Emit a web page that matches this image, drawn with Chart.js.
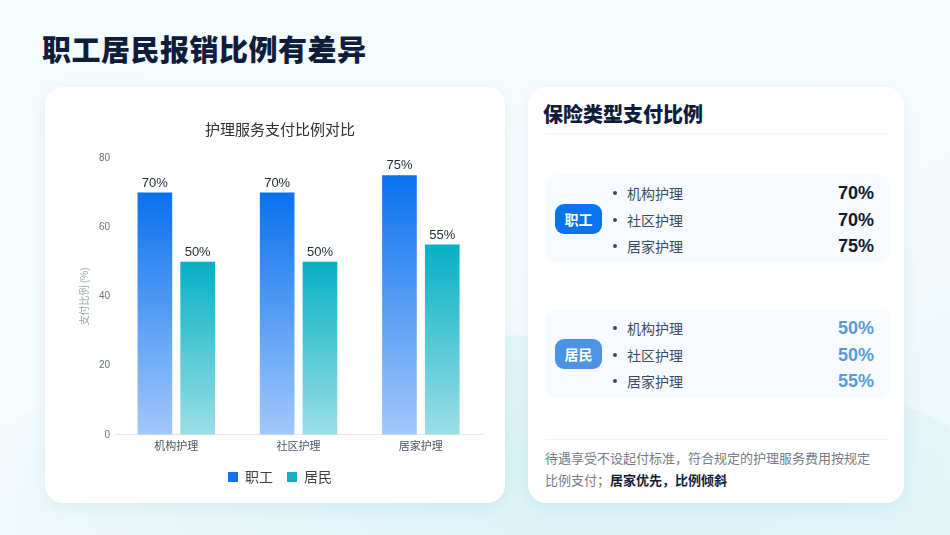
<!DOCTYPE html>
<html lang="zh-CN">
<head>
  <meta charset="UTF-8" />
  <title>职工居民报销比例有差异</title>
  <script src="https://cdn.jsdelivr.net/npm/chart.js"></script>
  <style>
    html, body { margin: 0; padding: 0; }
    body {
      width: 950px;
      height: 535px;
      overflow: hidden;
      position: relative;
      font-family: 'Noto Sans CJK SC', 'Noto Sans', sans-serif;
      background: linear-gradient(160deg, #f2fbfd 0%, #f7fcfe 45%, #eaf7f9 100%);
    }
    .wave {
      position: absolute;
      left: -100px; right: -100px;
      bottom: -220px;
      height: 420px;
      border-radius: 50%;
      background: radial-gradient(ellipse at 60% 30%, rgba(200,238,243,0.6), rgba(230,248,250,0) 70%);
    }
    .page-title {
      position: absolute;
      left: 42px;
      top: 27px;
      margin: 0;
      font-size: 29px;
      font-weight: 900;
      color: #0f1d3a;
      letter-spacing: 0.5px;
    }
    .card {
      position: absolute;
      background: #fff;
      border-radius: 18px;
      box-shadow: 0 4px 16px rgba(60,140,170,0.10);
    }
    .card-left { left: 45px; top: 87px; width: 460px; height: 416px; }
    .card-right { left: 528px; top: 87px; width: 376px; height: 416px; }
    .chart-box {
      position: absolute;
      left: 10px; top: 14px;
      width: 440px; height: 393px;
    }
    .rt-title {
      position: absolute;
      left: 15px; top: 12px;
      margin: 0;
      font-size: 20px;
      font-weight: 900;
      color: #0f1d3a;
    }
    .divider {
      position: absolute;
      left: 17px; right: 16px;
      height: 1px;
      background: #eef3f6;
    }
    .group {
      position: absolute;
      left: 17px; width: 345px;
      height: 88px;
      border-radius: 10px;
      background: #f7fbff;
    }
    .badge {
      position: absolute;
      left: 10px; top: 29px;
      width: 47px; height: 30px;
      border-radius: 9px;
      color: #fff;
      font-size: 14px;
      font-weight: 700;
      line-height: 30px;
      text-align: center;
    }
    .row {
      position: absolute;
      left: 68px; width: 261px;
      height: 24px;
      line-height: 24px;
      font-size: 14px;
      color: #3d4a5c;
    }
    .row .dot {
      display: inline-block;
      width: 4px; height: 4px;
      border-radius: 50%;
      background: #3d4a5c;
      vertical-align: middle;
      margin: 0 10px 0 0;
      position: relative; top: -2px;
    }
    .row .val {
      position: absolute;
      right: 0; top: 0;
      font-family: 'Liberation Sans', 'Noto Sans', sans-serif;
      font-size: 18px;
      font-weight: 700;
    }
    .note {
      position: absolute;
      left: 17px; top: 360px;
      width: 334px;
      margin: 0;
      font-size: 13px;
      line-height: 22px;
      color: #747c86;
    }
    .note b { color: #0f1d3a; }
  </style>
</head>
<body>
  <div class="wave"></div>
  <h1 class="page-title">职工居民报销比例有差异</h1>

  <div class="card card-left">
    <div class="chart-box"><canvas id="barChart"></canvas></div>
  </div>

  <div class="card card-right">
    <h2 class="rt-title">保险类型支付比例</h2>
    <div class="divider" style="top: 46px;"></div>
    <div id="groups"></div>
    <div class="divider" style="top: 352px;"></div>
    <p class="note">待遇享受不设起付标准，符合规定的护理服务费用按规定比例支付；<b>居家优先，比例倾斜</b></p>
  </div>

  <script>
    const categories = ['机构护理', '社区护理', '居家护理'];
    const workerValues = [70, 70, 75];
    const residentValues = [50, 50, 55];
    const seriesNames = ['职工', '居民'];
    const yTicks = [0, 20, 40, 60, 80];

    // right-hand summary built from the same arrays
    const groupsEl = document.getElementById('groups');
    const groupSpecs = [
      { name: seriesNames[0], values: workerValues, top: 88, badge: '#0a74ee', valColor: '#111827' },
      { name: seriesNames[1], values: residentValues, top: 223, badge: '#4a94e2', valColor: '#5b9ad6' }
    ];
    groupSpecs.forEach(g => {
      const box = document.createElement('div');
      box.className = 'group';
      box.style.top = g.top + 'px';
      let html = '<div class="badge" style="background:' + g.badge + '">' + g.name + '</div>';
      categories.forEach((c, i) => {
        html += '<div class="row" style="top:' + (6 + i * 26.5) + 'px"><span class="dot"></span>' + c +
          '<span class="val" style="color:' + g.valColor + '">' + g.values[i] + '%</span></div>';
      });
      box.innerHTML = html;
      groupsEl.appendChild(box);
    });

    function barGradient(top, bottom) {
      return function (ctx) {
        const chart = ctx.chart;
        const area = chart.chartArea;
        if (!area || ctx.type !== 'data') return top;
        const yScale = chart.scales.y;
        const y0 = yScale.getPixelForValue(ctx.raw);
        const y1 = yScale.getPixelForValue(0);
        const g = chart.ctx.createLinearGradient(0, y0, 0, y1);
        g.addColorStop(0, top);
        g.addColorStop(1, bottom);
        return g;
      };
    }

    // percent labels above each bar
    const valueLabels = {
      id: 'valueLabels',
      afterDatasetsDraw(chart) {
        const c = chart.ctx;
        c.save();
        c.font = '13px "Liberation Sans", "Noto Sans", sans-serif';
        c.fillStyle = '#1f2937';
        c.textAlign = 'center';
        c.textBaseline = 'bottom';
        chart.data.datasets.forEach((ds, di) => {
          chart.getDatasetMeta(di).data.forEach((bar, i) => {
            c.fillText(ds.data[i] + '%', bar.x, bar.y - 3);
          });
        });
        c.restore();
      }
    };

    const ctxBar = document.getElementById('barChart').getContext('2d');
    new Chart(ctxBar, {
      type: 'bar',
      data: {
        labels: categories,
        datasets: [
          {
            label: seriesNames[0],
            data: workerValues,
            backgroundColor: barGradient('#0a71ee', '#a2c8fb'),
            legendColor: '#1374e8'
          },
          {
            label: seriesNames[1],
            data: residentValues,
            backgroundColor: barGradient('#06b0c5', '#9cdfe5'),
            legendColor: '#15aec3'
          }
        ]
      },
      options: {
        responsive: true,
        maintainAspectRatio: false,
        animation: false,
        datasets: { bar: { categoryPercentage: 0.7, barPercentage: 0.81 } },
        layout: { padding: { left: 23, right: 13, top: 0, bottom: 0 } },
        plugins: {
          title: {
            display: true,
            text: '护理服务支付比例对比',
            color: '#2b2f36',
            font: { size: 15, weight: 'normal', family: '"Noto Sans CJK SC"' },
            padding: { top: 19, bottom: 20 }
          },
          legend: {
            position: 'bottom',
            labels: {
              color: '#3a3f47',
              font: { size: 14, family: '"Noto Sans CJK SC"' },
              boxWidth: 10,
              boxHeight: 10,
              padding: 14,
              generateLabels(chart) {
                return chart.data.datasets.map((ds, i) => ({
                  text: ds.label,
                  fillStyle: ds.legendColor,
                  strokeStyle: ds.legendColor,
                  lineWidth: 0,
                  datasetIndex: i,
                  fontColor: '#3a3f47'
                }));
              }
            }
          },
          tooltip: { enabled: false }
        },
        scales: {
          x: {
            grid: { display: false, drawTicks: false },
            border: { display: true, color: '#e3e8ec' },
            ticks: {
              color: '#4b5563',
              font: { size: 11, family: '"Noto Sans CJK SC"' },
              padding: 4
            }
          },
          y: {
            min: 0,
            max: 80,
            afterBuildTicks(scale) { scale.ticks = yTicks.map(v => ({ value: v })); },
            grid: { display: false, drawTicks: false },
            border: { display: false },
            ticks: {
              color: '#6b7280',
              font: { size: 10, family: '"Liberation Sans"' },
              padding: 5
            },
            title: {
              display: true,
              text: '支付比例 (%)',
              color: '#9aa3ad',
              font: { size: 10, family: '"Noto Sans CJK SC"' },
              padding: { top: 0, bottom: 4 }
            }
          }
        }
      },
      plugins: [valueLabels]
    });
  </script>
</body>
</html>
